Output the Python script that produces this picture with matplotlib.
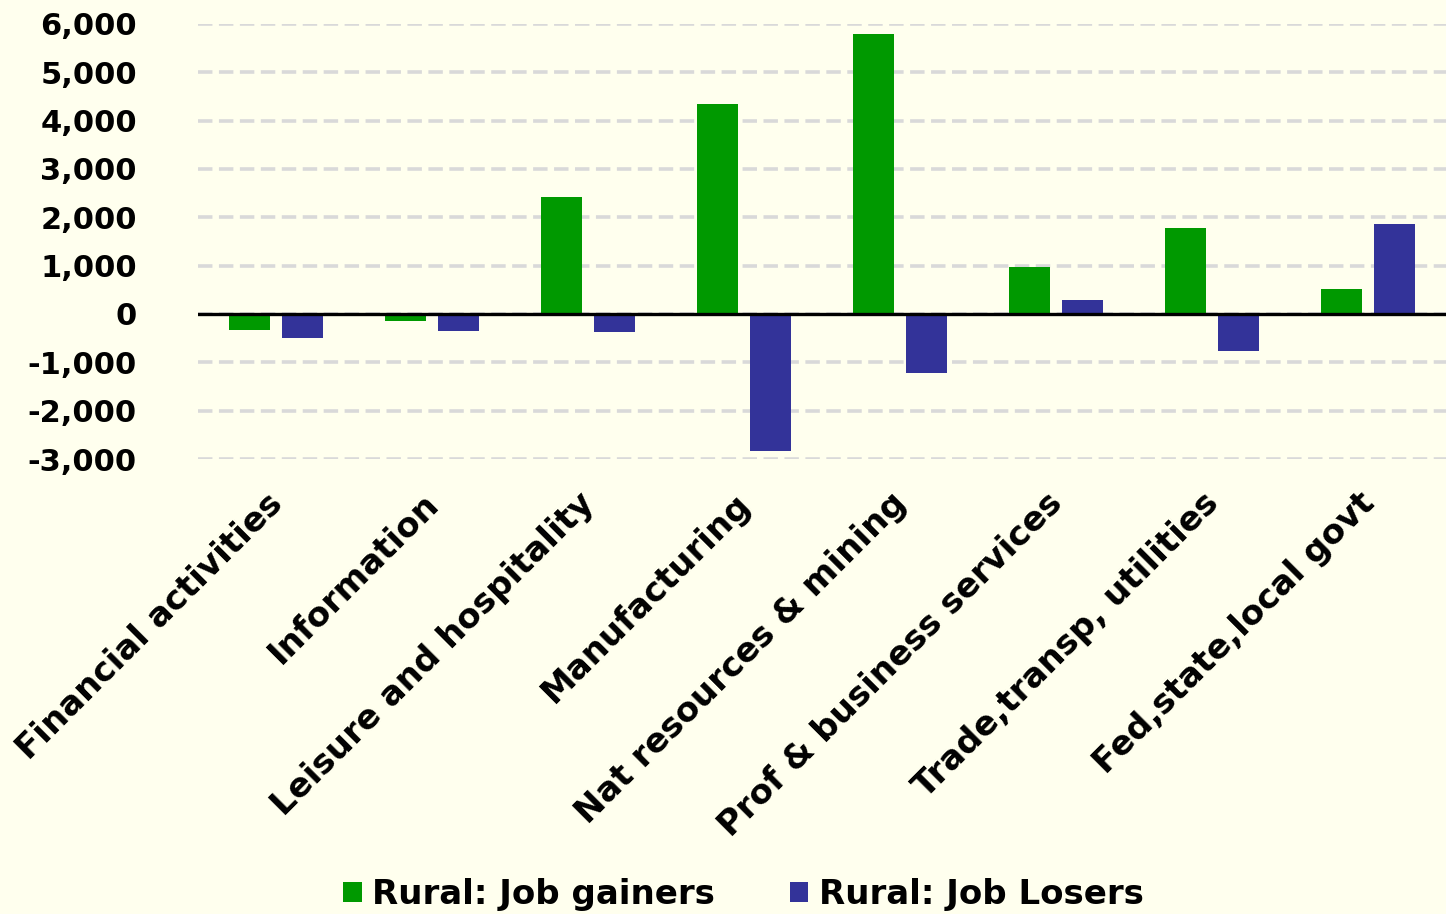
"""
Rural job gainers vs job losers by industry.
"""

import numpy as np
from matplotlib import pyplot as plt
from matplotlib.ticker import FuncFormatter
from matplotlib.transforms import ScaledTranslation

categories = ["Financial activities", "Information", "Leisure and hospitality",
              "Manufacturing", "Nat resources & mining", "Prof & business services",
              "Trade,transp, utilities", "Fed,state,local govt"]
gainers = [-330, -140, 2420, 4345, 5790, 970, 1780, 515]
losers = [-500, -350, -370, -2835, -1220, 290, -765, 1860]
yticks = [-3000, -2000, -1000, 0, 1000, 2000, 3000, 4000, 5000, 6000]

bg = "#FFFFEE"
green = "#009900"
blue = "#333399"

plt.rcParams['font.family'] = ['DejaVu Sans']
plt.rcParams['font.weight'] = 'bold'

fig = plt.figure(figsize=(14.46, 9.14), dpi=100, facecolor=bg)
ax = fig.add_axes([0.137, 0.4978, 0.863, 0.476], facecolor=bg)

x = np.arange(len(categories))
w = 0.263
ax.bar(x - 0.168, gainers, w, color=green, label="Rural: Job gainers", zorder=3)
ax.bar(x + 0.168, losers, w, color=blue, label="Rural: Job Losers", zorder=3)

ax.set_xlim(-0.5, len(categories) - 0.5)
ax.set_ylim(-3000, 6000)
ax.set_yticks(yticks)
ax.yaxis.set_major_formatter(FuncFormatter(lambda v, p: f"{int(v):,}"))
ax.grid(axis='y', color='#D9D9D9', linestyle=(0, (4, 1.8)), linewidth=2.6, zorder=0)
ax.axhline(0, color='black', linewidth=2.4, zorder=4)

for s in ax.spines.values():
    s.set_visible(False)
ax.tick_params(axis='both', length=0)
ax.tick_params(axis='y', pad=44, labelsize=22)

ax.set_xticks(x)
ax.set_xticklabels(categories, rotation=45, ha='right', rotation_mode='anchor',
                   fontsize=24.5, fontweight='bold')
ax.tick_params(axis='x', pad=20)
shift = ScaledTranslation(-0.1, 0, fig.dpi_scale_trans)
for lbl in ax.get_xticklabels():
    lbl.set_transform(lbl.get_transform() + shift)

fig.legend(loc='lower center', bbox_to_anchor=(0.514, -0.03), ncol=2, frameon=False,
           prop={'size': 24.5, 'weight': 'bold'}, handlelength=0.55, handleheight=0.55,
           handletextpad=0.3, columnspacing=2.2)

plt.savefig("out.png", dpi=100, facecolor=bg)
